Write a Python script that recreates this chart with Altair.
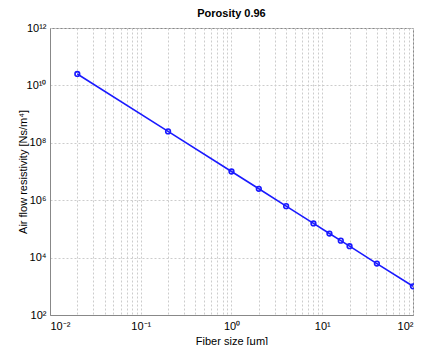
import altair as alt
import pandas as pd

# data
fiber_size = [0.02, 0.2, 1, 2, 4, 8, 12, 16, 20, 40, 100]
resistivity = [2.5e10, 2.5e8, 1.0e7, 2.5e6, 6.2e5, 1.55e5, 6.9e4, 3.9e4, 2.5e4, 6.2e3, 1.0e3]

x_label_values = [0.01, 0.1, 1, 10, 100]
x_label_texts = ["10⁻²", "10⁻¹", "10⁰", "10¹", "10²"]
y_label_values = [1e2, 1e4, 1e6, 1e8, 1e10, 1e12]
y_label_texts = ["10²", "10⁴", "10⁶", "10⁸", "10¹⁰", "10¹²"]

df = pd.DataFrame({"x": fiber_size, "y": resistivity})

x_grid = []
for k in range(-2, 2):
    for m in range(1, 10):
        x_grid.append(float(f"{m}e{k}"))
x_grid.append(100.0)


def label_expr(vals, texts):
    expr = "''"
    for v, t in reversed(list(zip(vals, texts))):
        expr = f"datum.value == {float(v)!r} ? '{t}' : ({expr})"
    return expr


FONT = "Liberation Sans"
blue = "#1a1aff"

xenc = alt.X(
    "x:Q",
    scale=alt.Scale(type="log", domain=[0.01, 100], nice=False),
    axis=alt.Axis(
        values=x_grid,
        labelExpr=label_expr(x_label_values, x_label_texts),
        title="Fiber size [\u03bcm]",
        grid=True,
        ticks=False,
        labelPadding=5,
        titlePadding=4,
    ),
)
yenc = alt.Y(
    "y:Q",
    scale=alt.Scale(type="log", domain=[1e2, 1e12], nice=False),
    axis=alt.Axis(
        values=y_label_values,
        labelExpr=label_expr(y_label_values, y_label_texts),
        title="Air flow resistivity [Ns/m⁴]",
        grid=True,
        ticks=False,
        labelPadding=4,
        titlePadding=-2,
    ),
)

line = alt.Chart(df).mark_line(color=blue, strokeWidth=1.6).encode(x=xenc, y=yenc)
pts = alt.Chart(df).mark_point(
    color=blue, filled=False, size=22, strokeWidth=1.6, opacity=1
).encode(x=xenc, y=yenc)

chart = (
    alt.layer(line, pts)
    .properties(
        width=363,
        height=287,
        title=alt.TitleParams(
            "Porosity 0.96", font=FONT, fontSize=11, fontWeight="bold", offset=3, color="black"
        ),
        autosize=alt.AutoSizeParams(type="none"),
        padding={"left": 42, "top": 20, "right": 1, "bottom": 30},
    )
    .configure_view(stroke="#888888", strokeWidth=1)
    .configure_axis(
        labelFont=FONT,
        titleFont=FONT,
        labelFontSize=11,
        titleFontSize=11,
        titleFontWeight="normal",
        labelColor="black",
        titleColor="black",
        domainColor="#888888",
        gridColor="#cccccc",
        gridDash=[2, 2],
        gridWidth=1,
    )
)

chart.save("out.html", embed_options={"renderer": "svg", "actions": False})
